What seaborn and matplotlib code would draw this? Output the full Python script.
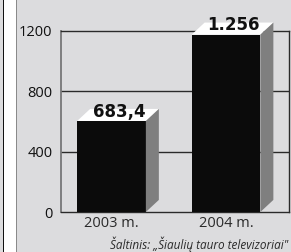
import matplotlib
matplotlib.use("Agg")
import matplotlib.pyplot as plt
import seaborn as sns
from matplotlib.patches import Polygon, Rectangle

years = ["2003 m.", "2004 m."]
values = [683.4, 1256]
value_labels = ["683,4", "1.256"]
yticks = [0, 400, 800, 1200]
source = "Šaltinis: „Šiaulių tauro televizoriai\""

bg = "#dcdcde"
sns.set_style("white")
plt.rcParams["font.family"] = ["Open Sans", "DejaVu Sans"]

fig = plt.figure(figsize=(2.91, 2.52), dpi=100, facecolor=bg)
# white strip on the left edge
fig.patches.append(Rectangle((3 / 291, 0), 13 / 291, 1, transform=fig.transFigure,
                             facecolor="white", edgecolor="none", zorder=0))
fig.patches.append(Rectangle((2.5 / 291, 0), 1.2 / 291, 1, transform=fig.transFigure,
                             facecolor="#111111", edgecolor="none", zorder=0))
fig.patches.append(Rectangle((15.5 / 291, 0), 1.4 / 291, 1, transform=fig.transFigure,
                             facecolor="#8a8a8a", edgecolor="none", zorder=0))

ax = fig.add_axes([61 / 291, 40 / 252, 228 / 291, 181 / 252])
ax.set_facecolor(bg)

# 3d depth of the bars (data units)
dx, dy = 0.1135, 80
front = [v - dy for v in values]
sns.barplot(x=years, y=front, color="#0b0b0b", width=0.6, ax=ax,
            saturation=1, zorder=3, linewidth=0)

for p, v in zip(ax.patches, values):
    x0 = p.get_x()
    x1 = x0 + p.get_width()
    h = p.get_height()
    top = Polygon([(x0, h), (x0 + dx, h + dy), (x1 + dx, h + dy), (x1, h)],
                  closed=True, facecolor="white", edgecolor="none", zorder=3, clip_on=False)
    side = Polygon([(x1, 0), (x1 + dx, dy), (x1 + dx, h + dy), (x1, h)],
                   closed=True, facecolor="#7f7f7f", edgecolor="none", zorder=3, clip_on=False)
    ax.add_patch(top)
    ax.add_patch(side)

for p, lab in zip(ax.patches[:2], value_labels):
    cx = p.get_x() + p.get_width() / 2 + dx * 0.6
    ax.text(cx, p.get_height() + dy * 0.35, lab, ha="center", va="baseline",
            fontsize=12, fontweight="bold", color="#111111", zorder=5, clip_on=False,
            family="DejaVu Sans")

for y in yticks[1:3]:
    ax.axhline(y, color="#2a2a2a", lw=1, zorder=1)

ax.set_ylim(0, 1200)
ax.set_xlim(-0.441, 1.55)
ax.set_yticks(yticks)
ax.set_yticklabels([str(t) for t in yticks])
ax.tick_params(axis="y", length=5, width=1, color="#2a2a2a", labelsize=10.5,
               labelcolor="#111111", pad=1)
ax.tick_params(axis="x", length=0, labelsize=10.5, labelcolor="#2a2a2a", pad=3)
ax.set_xlabel("")
ax.set_ylabel("")
for s in ["left", "bottom", "top", "right"]:
    ax.spines[s].set_visible(True)
    ax.spines[s].set_color("#2a2a2a")
    ax.spines[s].set_linewidth(1)
ax.spines["left"].set_color("#777777")
ax.spines["left"].set_linewidth(1.3)

fig.text(288 / 291, 1 - 244 / 252, source, ha="right", va="center",
         fontsize=8.5, style="italic", color="#2a2a2a")

fig.savefig("out.png", dpi=100, facecolor=bg)
